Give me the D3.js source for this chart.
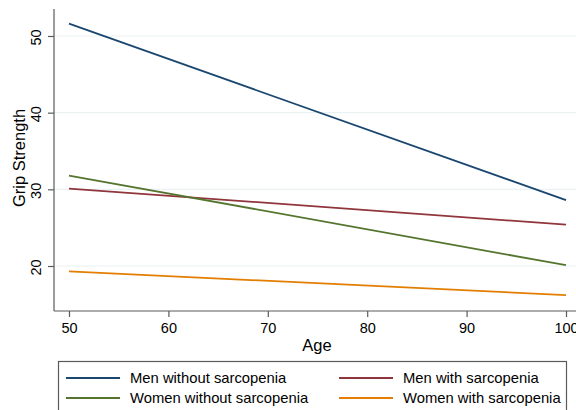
<!DOCTYPE html>
<html>
<head>
<meta charset="utf-8">
<script src="https://cdn.jsdelivr.net/npm/d3@7"></script>
<style>
  body { margin: 0; background: #fff; }
  svg { display: block; font-family: "Liberation Sans", Arial, sans-serif; }
</style>
</head>
<body>
<svg id="chart" width="576" height="410"></svg>
<script>
var ages = [50, 100];
var menNoSarc = [51.6, 28.6];
var menSarc = [30.1, 25.4];
var womenNoSarc = [31.8, 20.1];
var womenSarc = [19.3, 16.2];
var xTicks = [50, 60, 70, 80, 90, 100];
var yTicks = [20, 30, 40, 50];

var series = [
  { name: "Men without sarcopenia", values: menNoSarc, color: "#1a476f" },
  { name: "Men with sarcopenia", values: menSarc, color: "#90353b" },
  { name: "Women without sarcopenia", values: womenNoSarc, color: "#55752f" },
  { name: "Women with sarcopenia", values: womenSarc, color: "#e37e00" }
];

var svg = d3.select("#chart");
var axisColor = "#5a5a5a";

var x = d3.scaleLinear().domain([50, 100]).range([69, 566]);
var y = d3.scaleLinear().domain([14.13, 53.52]).range([311, 9]);

// grid lines
svg.selectAll(".grid")
  .data(yTicks)
  .enter().append("line")
  .attr("x1", 54).attr("x2", 576)
  .attr("y1", function(d) { return y(d); })
  .attr("y2", function(d) { return y(d); })
  .style("stroke", "#eaf2f3")
  .style("stroke-width", 1.2);

// x axis
var xAxis = svg.append("g")
  .attr("transform", "translate(0,311)")
  .call(d3.axisBottom(x).tickValues(xTicks).tickSize(6).tickPadding(6).tickSizeOuter(0));
xAxis.select(".domain").remove();
xAxis.append("line").attr("x1", 54).attr("x2", 576).attr("y1", 0).attr("y2", 0)
  .style("stroke", axisColor).style("stroke-width", 1.2);
xAxis.selectAll(".tick line").style("stroke", axisColor).style("stroke-width", 1.2);
xAxis.selectAll(".tick text").style("font-size", "14.5px").style("fill", "#000")
  .attr("font-family", "Liberation Sans, Arial, sans-serif");

// y axis
var yAxis = svg.append("g")
  .attr("transform", "translate(54,0)")
  .call(d3.axisLeft(y).tickValues(yTicks).tickSize(6).tickSizeOuter(0));
yAxis.select(".domain").remove();
yAxis.append("line").attr("x1", 0).attr("x2", 0).attr("y1", 9).attr("y2", 311)
  .style("stroke", axisColor).style("stroke-width", 1.2);
yAxis.selectAll(".tick line").style("stroke", axisColor).style("stroke-width", 1.2);
yAxis.selectAll(".tick text")
  .attr("x", 0).attr("dy", null)
  .attr("transform", "translate(-17,1) rotate(-90)")
  .style("text-anchor", "middle")
  .style("dominant-baseline", "middle")
  .style("font-size", "14.5px").style("fill", "#000")
  .attr("font-family", "Liberation Sans, Arial, sans-serif");

// axis titles
svg.append("text")
  .attr("x", 317).attr("y", 351)
  .style("text-anchor", "middle")
  .style("font-size", "16.5px")
  .text("Age");
svg.append("text")
  .attr("transform", "translate(25,158) rotate(-90)")
  .style("text-anchor", "middle")
  .style("font-size", "16.5px")
  .text("Grip Strength");

// lines
var line = d3.line()
  .x(function(d, i) { return x(ages[i]); })
  .y(function(d) { return y(d); });

svg.selectAll(".series")
  .data(series)
  .enter().append("path")
  .attr("d", function(d) { return line(d.values); })
  .style("fill", "none")
  .style("stroke", function(d) { return d.color; })
  .style("stroke-width", 1.8);

// legend
var legend = svg.append("g");
legend.append("rect")
  .attr("x", 58.5).attr("y", 361.5)
  .attr("width", 508).attr("height", 60)
  .style("fill", "#fff")
  .style("stroke", axisColor)
  .style("stroke-width", 1.2);

var items = legend.selectAll(".item")
  .data(series)
  .enter().append("g")
  .attr("transform", function(d, i) {
    var col = i % 2, row = Math.floor(i / 2);
    return "translate(" + (col === 0 ? 66 : 339) + "," + (378 + row * 20) + ")";
  });
items.append("line")
  .attr("x1", 0).attr("x2", 54)
  .style("stroke", function(d) { return d.color; })
  .style("stroke-width", 1.8);
items.append("text")
  .attr("x", 64)
  .attr("dy", "0.35em")
  .style("font-size", "14.8px")
  .text(function(d) { return d.name; });
</script>
</body>
</html>
